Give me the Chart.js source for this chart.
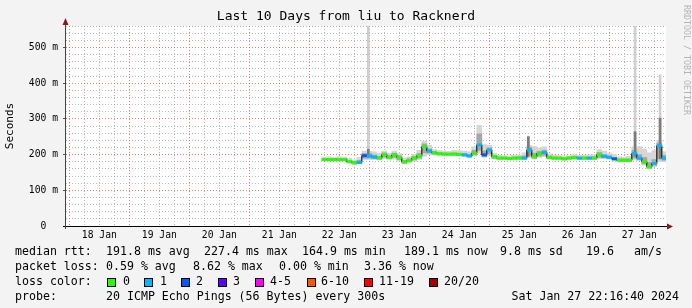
<!DOCTYPE html>
<html>
<head>
<meta charset="utf-8">
<title>Last 10 Days from liu to Racknerd</title>
<script src="https://cdn.jsdelivr.net/npm/chart.js@4.4.1/dist/chart.umd.min.js"></script>
<style>
  html, body { margin: 0; padding: 0; background: #f3f3f3; }
  canvas { display: block; }
</style>
</head>
<body>
<canvas id="smokeChart" width="692" height="308"></canvas>
<script>
// sample time in hours after 18 Jan 00:00 (one sample every 2 h)
const hours = [102, 104, 106, 108, 110, 112, 114, 116, 118, 120, 122, 124, 126, 128, 130, 132, 134, 136, 138, 140,
  142, 144, 146, 148, 150, 152, 154, 156, 158, 160, 162, 164, 166, 168, 170, 172, 174, 176, 178, 180,
  182, 184, 186, 188, 190, 192, 194, 196, 198, 200, 202, 204, 206, 208, 210, 212, 214, 216, 218, 220,
  222, 224, 226, 228, 230, 232, 234, 236, 238];
// median rtt in ms
const median = [186, 186, 186, 186, 186, 180, 177, 178, 197, 196, 193, 190, 200, 192, 199, 192, 179, 183, 190, 197,
  222, 210, 205, 202, 201, 201, 201, 200, 199, 196, 204, 227, 199, 213, 194, 190, 190, 189, 190, 190,
  190, 213, 194, 203, 206, 192, 190, 190, 188, 190, 192, 190, 190, 190, 190, 200, 195, 192, 188, 184,
  184, 184, 203, 190, 180, 166, 175, 225, 190];
// lost pings out of 20
const loss = [0, 0, 0, 0, 0, 0, 0, 1, 2, 1, 1, 0, 0, 0, 0, 0, 0, 0, 0, 0,
  0, 1, 0, 0, 0, 0, 0, 0, 1, 1, 0, 1, 2, 1, 0, 0, 0, 0, 0, 0,
  1, 1, 0, 0, 1, 0, 0, 0, 0, 0, 0, 1, 0, 1, 0, 0, 1, 1, 2, 0,
  0, 0, 1, 1, 0, 0, 1, 1, 1];
// smoke: full ping spread (light) and inner spread (dark), ms
const smokeLo = [183, 183, 183, 183, 183, 177, 173, 174, 185, 186, 186, 186, 188, 186, 187, 182, 175, 178, 182, 186,
  195, 200, 199, 198, 198, 198, 198, 197, 195, 192, 196, 204, 192, 196, 188, 186, 186, 185, 186, 186,
  186, 192, 188, 192, 194, 187, 186, 186, 184, 186, 187, 186, 186, 186, 186, 188, 188, 187, 184, 181,
  181, 181, 186, 183, 170, 160, 166, 180, 180];
const smokeHi = [193, 194, 193, 194, 193, 190, 185, 192, 210, 210, 208, 204, 210, 204, 210, 203, 190, 194, 201, 212,
  238, 226, 214, 211, 210, 209, 212, 211, 210, 208, 222, 282, 228, 226, 204, 198, 197, 197, 198, 199,
  205, 226, 222, 218, 222, 202, 198, 197, 196, 197, 200, 198, 198, 199, 200, 214, 210, 204, 200, 194,
  193, 195, 222, 222, 215, 205, 212, 240, 208];
const coreLo = [184, 184, 184, 184, 184, 178, 175, 176, 190, 190, 189, 188, 193, 189, 192, 186, 177, 180, 185, 190,
  205, 204, 201, 200, 199, 199, 199, 198, 197, 194, 199, 212, 195, 202, 190, 188, 188, 187, 188, 188,
  188, 198, 190, 196, 198, 189, 188, 188, 186, 188, 189, 188, 188, 188, 188, 192, 191, 189, 186, 182,
  182, 182, 190, 186, 174, 162, 170, 188, 184];
const coreHi = [189, 189, 189, 189, 189, 184, 181, 184, 203, 203, 199, 195, 205, 197, 204, 197, 184, 188, 195, 203,
  230, 216, 209, 206, 205, 204, 205, 204, 203, 201, 212, 258, 210, 219, 198, 193, 193, 192, 193, 194,
  196, 220, 204, 209, 212, 196, 193, 193, 191, 193, 195, 193, 193, 193, 194, 206, 200, 197, 192, 188,
  188, 188, 212, 200, 192, 178, 186, 232, 198];
// narrow outlier spikes
const spikeHours = [119.6, 183.6, 226.3, 236.3];
const spikeBase = [192, 195, 195, 188];
const spikeTop = [600, 252, 600, 423];
const spikeCoreTop = [215, 250, 264, 302];

const dayLabels = ['18 Jan', '19 Jan', '20 Jan', '21 Jan', '22 Jan', '23 Jan', '24 Jan', '25 Jan', '26 Jan', '27 Jan'];
const yLabelValues = [0, 100, 200, 300, 400, 500];
const yLabelTexts = ['0  ', '100 m', '200 m', '300 m', '400 m', '500 m'];

const lossLabels = ['0', '1', '2', '3', '4-5', '6-10', '11-19', '20/20'];
const lossColors = ['#26ff00', '#00b8ff', '#0059ff', '#5e00ff', '#ff00ff', '#ff5500', '#ff0000', '#a10000'];
const rttStats = ['191.8 ms avg', '227.4 ms max', '164.9 ms min', '189.1 ms now', '9.8 ms sd', '19.6', 'am/s'];
const lossStats = ['0.59 % avg', '8.62 % max', '0.00 % min', '3.36 % now'];
const probeText = '20 ICMP Echo Pings (56 Bytes) every 300s';
const dateText = 'Sat Jan 27 22:16:40 2024';
const titleText = 'Last 10 Days from liu to Racknerd';

// layout bits
const xMin = -1.33, xMax = 238.67;
const rttStatX = [106, 204, 302, 404, 500, 586, 634];
const lossStatX = [106, 193, 279, 364];
const boxX = [107, 144, 181, 218, 255, 307, 364, 429];
const boxLabelX = [123, 160, 196, 233, 270, 321, 379, 444];
const rowY = [252, 267, 282, 297];

const mono = '"DejaVu Sans Mono", monospace';
const majorGrid = 'rgba(225, 50, 50, 0.65)';
const minorGrid = 'rgba(140, 140, 140, 0.6)';

function lossColor(n) {
  if (n <= 3) return lossColors[n];
  if (n <= 5) return lossColors[4];
  if (n <= 10) return lossColors[5];
  if (n <= 19) return lossColors[6];
  return lossColors[7];
}

const gridHours = [];
for (let h = 0; h <= xMax; h += 6) gridHours.push(h);
const gridMs = [];
for (let v = 0; v <= 560; v += 20) gridMs.push(v);

const medianPoints = hours.map((h, i) => ({ x: h, y: median[i] }));

const decor = {
  id: 'decor',
  beforeDraw(chart) {
    const { ctx, chartArea: a } = chart;
    ctx.save();
    ctx.fillStyle = '#f3f3f3';
    ctx.fillRect(0, 0, chart.width, chart.height);
    ctx.fillStyle = '#ffffff';
    ctx.fillRect(a.left, a.top, a.right - a.left, a.bottom - a.top);
    ctx.restore();
  },
  afterDraw(chart) {
    const { ctx, chartArea: a } = chart;
    ctx.save();
    // axes
    ctx.lineWidth = 1;
    ctx.strokeStyle = '#000';
    ctx.beginPath();
    ctx.moveTo(a.left - 3, a.bottom + 0.5);
    ctx.lineTo(a.right + 1, a.bottom + 0.5);
    ctx.stroke();
    ctx.strokeStyle = '#444';
    ctx.beginPath();
    ctx.moveTo(a.left - 0.5, a.bottom + 3);
    ctx.lineTo(a.left - 0.5, a.top - 2);
    ctx.stroke();
    ctx.fillStyle = '#8b1a1a';
    ctx.beginPath();
    ctx.moveTo(a.right + 7, a.bottom + 0.5);
    ctx.lineTo(a.right + 1, a.bottom - 2.5);
    ctx.lineTo(a.right + 1, a.bottom + 3.5);
    ctx.closePath();
    ctx.fill();
    ctx.beginPath();
    ctx.moveTo(a.left - 0.5, a.top - 8);
    ctx.lineTo(a.left - 3.5, a.top - 1);
    ctx.lineTo(a.left + 2.5, a.top - 1);
    ctx.closePath();
    ctx.fill();

    // title
    ctx.fillStyle = '#000';
    ctx.font = '13px ' + mono;
    ctx.textAlign = 'center';
    ctx.textBaseline = 'middle';
    ctx.fillText(titleText, chart.width / 2, 17);

    // y title
    ctx.save();
    ctx.translate(10, 126);
    ctx.rotate(-Math.PI / 2);
    ctx.font = '11px ' + mono;
    ctx.fillText('Seconds', 0, 0);
    ctx.restore();

    // watermark
    ctx.save();
    ctx.translate(686, 5);
    ctx.rotate(Math.PI / 2);
    ctx.font = '8.3px ' + mono;
    ctx.fillStyle = '#b4b4b4';
    ctx.textAlign = 'left';
    ctx.fillText('RRDTOOL / TOBI OETIKER', 0, 0);
    ctx.restore();

    // legend
    ctx.font = '11.6px ' + mono;
    ctx.textAlign = 'left';
    ctx.fillStyle = '#000';
    ctx.fillText('median rtt:', 15, rowY[0]);
    rttStats.forEach((t, i) => ctx.fillText(t, rttStatX[i], rowY[0]));
    ctx.fillText('packet loss:', 15, rowY[1]);
    lossStats.forEach((t, i) => ctx.fillText(t, lossStatX[i], rowY[1]));
    ctx.fillText('loss color:', 15, rowY[2]);
    lossLabels.forEach((t, i) => {
      ctx.fillStyle = lossColors[i];
      ctx.fillRect(boxX[i], rowY[2] - 4, 9, 9);
      ctx.strokeStyle = '#000';
      ctx.strokeRect(boxX[i] + 0.5, rowY[2] - 3.5, 8, 8);
      ctx.fillStyle = '#000';
      ctx.fillText(t, boxLabelX[i], rowY[2]);
    });
    ctx.fillText('probe:', 15, rowY[3]);
    ctx.fillText(probeText, 106, rowY[3]);
    ctx.textAlign = 'right';
    ctx.fillText(dateText, 679, rowY[3]);
    ctx.restore();
  }
};

const ctx = document.getElementById('smokeChart').getContext('2d');
new Chart(ctx, {
  type: 'bar',
  data: {
    datasets: [
      {
        type: 'line',
        data: medianPoints,
        showLine: false,
        pointStyle: 'line',
        pointRadius: 2.5,
        pointBorderWidth: 3,
        pointBorderColor: loss.map(lossColor),
        order: 0
      },
      {
        type: 'line',
        data: medianPoints,
        stepped: 'middle',
        borderColor: '#000',
        borderWidth: 1,
        pointRadius: 0,
        order: 1
      },
      {
        data: spikeHours.map((h, i) => ({ x: h, y: [spikeBase[i], spikeCoreTop[i]] })),
        backgroundColor: '#7c7c7c',
        barThickness: 2,
        grouped: false,
        order: 2
      },
      {
        data: spikeHours.map((h, i) => ({ x: h, y: [spikeBase[i], spikeTop[i]] })),
        backgroundColor: '#cfcfcf',
        barThickness: 2,
        grouped: false,
        order: 3
      },
      {
        data: hours.map((h, i) => ({ x: h, y: [coreLo[i], coreHi[i]] })),
        backgroundColor: '#a6a6a6',
        barThickness: 5,
        grouped: false,
        order: 4
      },
      {
        data: hours.map((h, i) => ({ x: h, y: [smokeLo[i], smokeHi[i]] })),
        backgroundColor: '#d6d6d6',
        barThickness: 5,
        grouped: false,
        order: 5
      }
    ]
  },
  options: {
    responsive: false,
    animation: false,
    events: [],
    layout: { padding: { top: 26, right: 26, left: 0, bottom: 0 } },
    plugins: {
      legend: { display: false },
      tooltip: { enabled: false }
    },
    scales: {
      x: {
        type: 'linear',
        min: xMin,
        max: xMax,
        offset: false,
        afterBuildTicks: s => { s.ticks = gridHours.map(v => ({ value: v })); },
        afterFit: s => { s.height = 82; },
        grid: {
          offset: false,
          drawTicks: false,
          color: c => (c.tick && c.tick.value % 24 === 0 ? majorGrid : minorGrid)
        },
        border: { display: false, dash: [1, 2] },
        ticks: {
          autoSkip: false,
          maxRotation: 0,
          padding: 4,
          color: '#000',
          font: { family: mono, size: 9.7 },
          callback: v => (v % 24 === 12 ? dayLabels[Math.floor(v / 24)] : '')
        }
      },
      y: {
        min: 0,
        max: 560,
        afterBuildTicks: s => { s.ticks = gridMs.map(v => ({ value: v })); },
        afterFit: s => { s.width = 66; },
        grid: {
          tickLength: 3,
          color: c => (c.tick && c.tick.value % 100 === 0 ? majorGrid : minorGrid),
          tickColor: c => (c.tick && c.tick.value % 100 === 0 ? '#555' : 'rgba(0,0,0,0)')
        },
        border: { display: false, dash: [1, 2] },
        ticks: {
          autoSkip: false,
          padding: 5,
          color: '#000',
          font: { family: mono, size: 9.7 },
          callback: v => {
            const k = yLabelValues.indexOf(v);
            return k < 0 ? '' : yLabelTexts[k];
          }
        }
      }
    }
  },
  plugins: [decor]
});
</script>
</body>
</html>
